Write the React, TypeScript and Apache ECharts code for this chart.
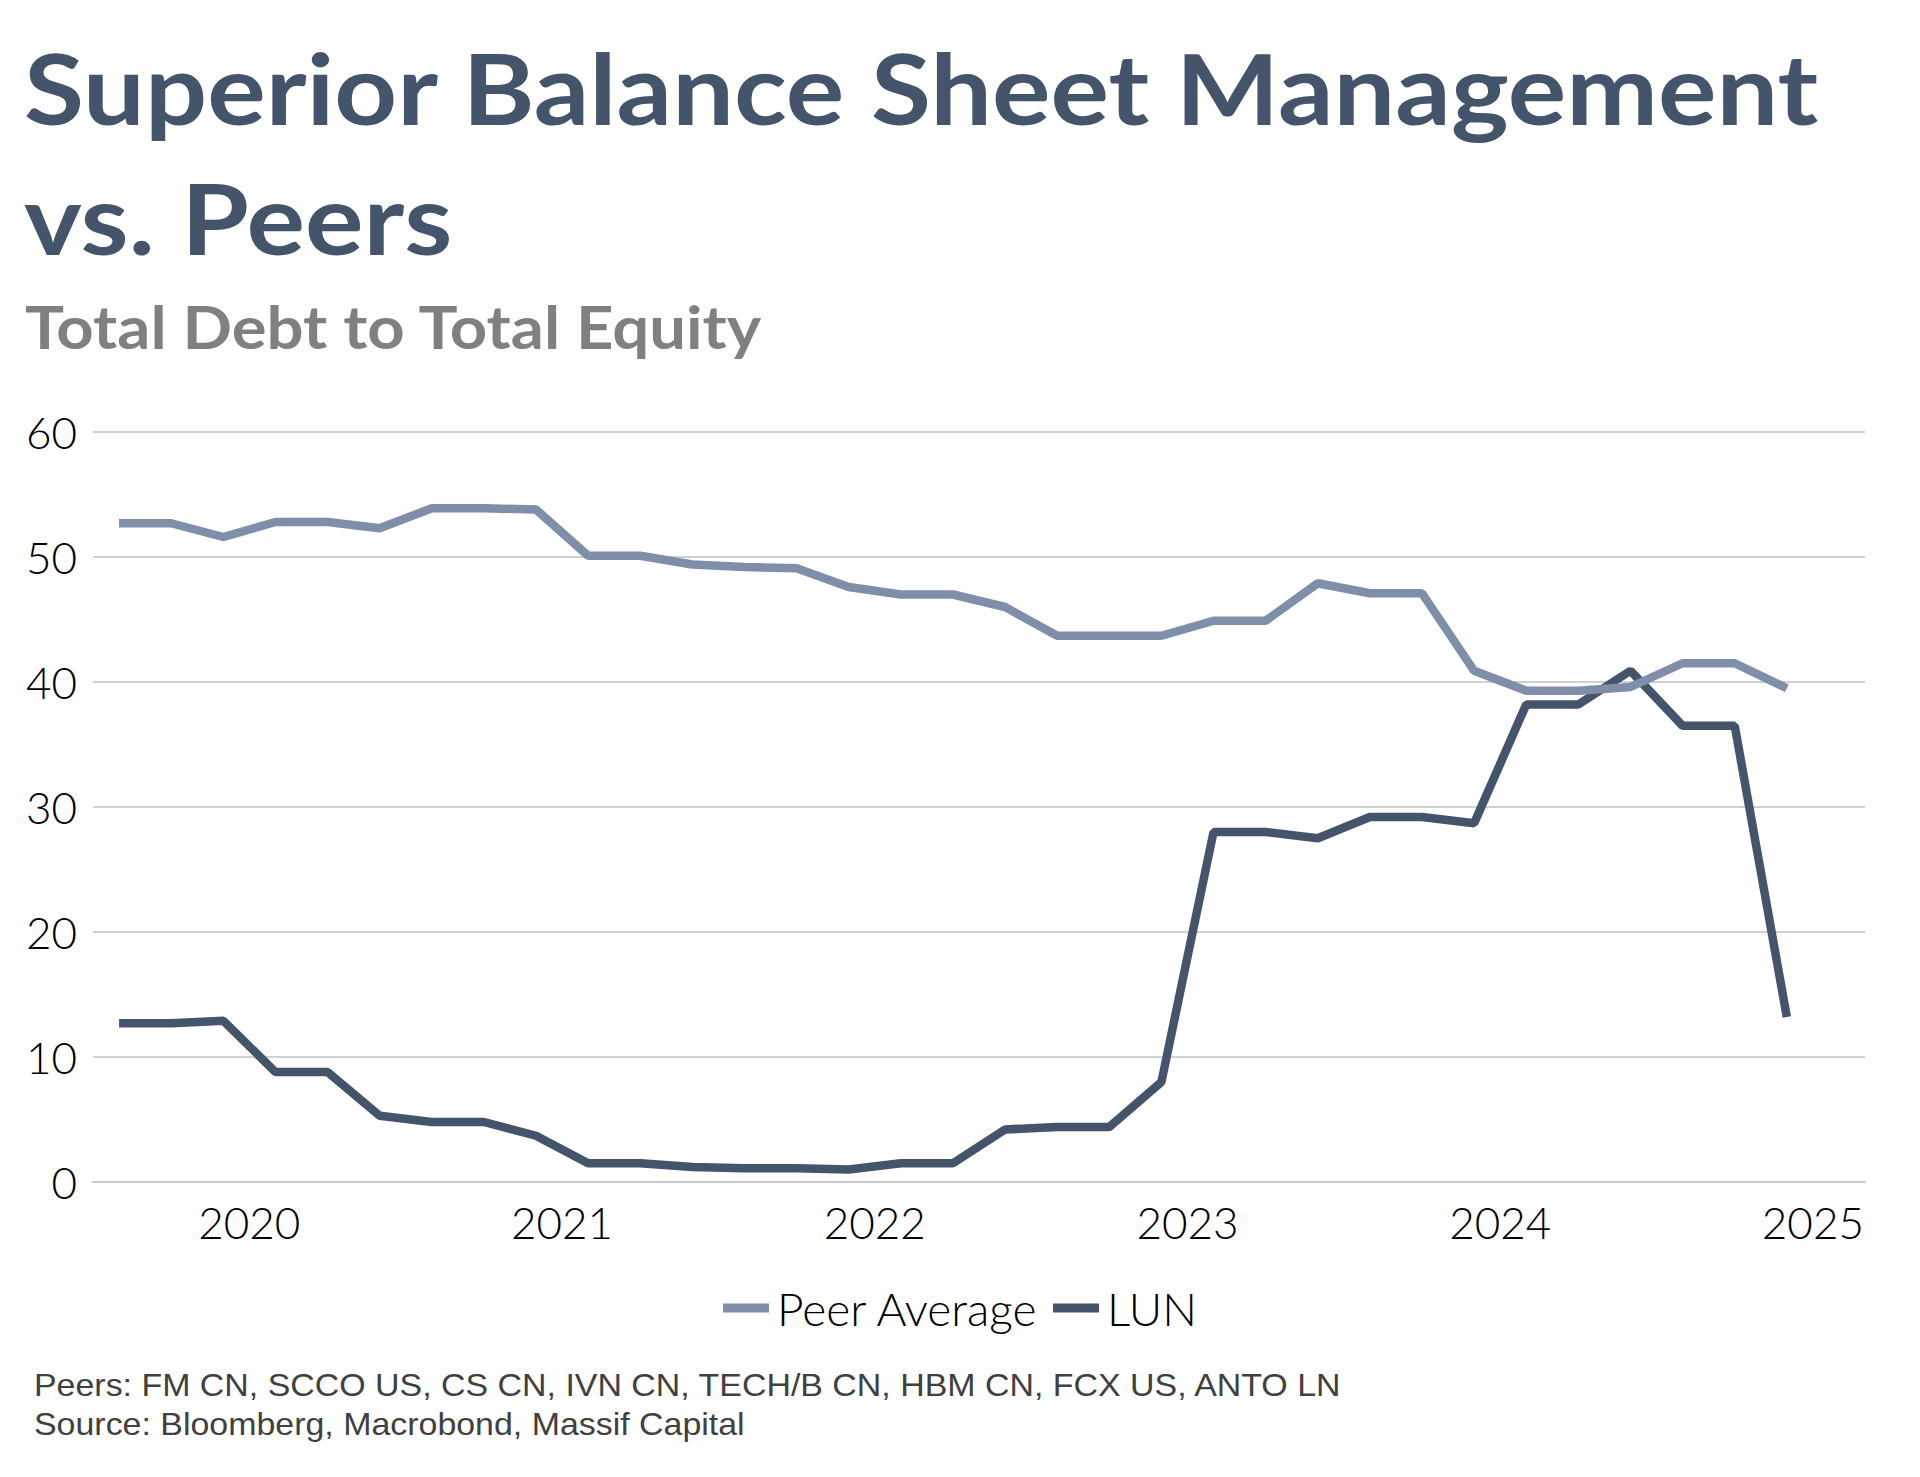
import React, { useEffect, useRef } from "react";
import * as echarts from "echarts";

const dates = [
  "2019-08", "2019-10", "2019-12", "2020-02", "2020-04", "2020-06", "2020-08", "2020-10", "2020-12",
  "2021-02", "2021-04", "2021-06", "2021-08", "2021-10", "2021-12",
  "2022-02", "2022-04", "2022-06", "2022-08", "2022-10", "2022-12",
  "2023-02", "2023-04", "2023-06", "2023-08", "2023-10", "2023-12",
  "2024-02", "2024-04", "2024-06", "2024-08", "2024-10", "2024-12",
];

const peerAverage = [
  52.7, 52.7, 51.6, 52.8, 52.8, 52.3, 53.9, 53.9, 53.8,
  50.1, 50.1, 49.4, 49.2, 49.1, 47.6,
  47.0, 47.0, 46.0, 43.7, 43.7, 43.7,
  44.9, 44.9, 47.9, 47.1, 47.1, 40.9,
  39.3, 39.3, 39.6, 41.5, 41.5, 39.5,
];

const lun = [
  12.7, 12.7, 12.9, 8.8, 8.8, 5.3, 4.8, 4.8, 3.7,
  1.5, 1.5, 1.2, 1.1, 1.1, 1.0,
  1.5, 1.5, 4.2, 4.4, 4.4, 8.0,
  28.0, 28.0, 27.5, 29.2, 29.2, 28.7,
  38.2, 38.2, 40.9, 36.5, 36.5, 13.2,
];

const yearTicks = [2020, 2021, 2022, 2023, 2024, 2025];
const yTicks = [0, 10, 20, 30, 40, 50, 60];

const titleLines = ["Superior Balance Sheet Management", "vs. Peers"];
const subtitle = "Total Debt to Total Equity";
const footnotes = [
  "Peers: FM CN, SCCO US, CS CN, IVN CN, TECH/B CN, HBM CN, FCX US, ANTO LN",
  "Source: Bloomberg, Macrobond, Massif Capital",
];

const BASE_YEAR = 2019;
const toMonth = (d: string) => {
  const [y, m] = d.split("-").map(Number);
  return (y - BASE_YEAR) * 12 + (m - 1);
};

export default function App() {
  const ref = useRef<HTMLDivElement>(null);
  useEffect(() => {
    if (!ref.current) return;
    const chart = echarts.init(ref.current, undefined, { renderer: "svg" });
    const axisFont = "Lato, 'Open Sans', sans-serif";
    const footFont = "32px 'Liberation Sans', Arial, sans-serif";
    chart.setOption({
      animation: false,
      backgroundColor: "#ffffff",
      graphic: [
        {
          type: "text",
          x: 24,
          y: 38,
          scaleX: 1.118,
          style: {
            text: titleLines[0],
            font: "bold 98px Lato, sans-serif",
            fill: "#44546a",
            verticalAlign: "top",
          },
        },
        {
          type: "text",
          x: 24,
          y: 168,
          scaleX: 1.118,
          style: {
            text: titleLines[1],
            font: "bold 98px Lato, sans-serif",
            fill: "#44546a",
            verticalAlign: "top",
          },
        },
        {
          type: "text",
          x: 25,
          y: 296,
          scaleX: 1.087,
          style: {
            text: subtitle,
            font: "bold 60px Lato, sans-serif",
            fill: "#808080",
            verticalAlign: "top",
          },
        },
        {
          type: "text",
          x: 34,
          y: 1369,
          scaleX: 1.06,
          style: {
            text: footnotes[0],
            font: footFont,
            fill: "#404040",
            verticalAlign: "top",
          },
        },
        {
          type: "text",
          x: 34,
          y: 1408,
          scaleX: 1.06,
          style: {
            text: footnotes[1],
            font: footFont,
            fill: "#404040",
            verticalAlign: "top",
          },
        },
      ],
      grid: { left: 93, right: 55, top: 432, bottom: 295, containLabel: false },
      legend: {
        data: ["Peer Average", "LUN"],
        left: "center",
        top: 1280,
        icon: "rect",
        itemWidth: 46,
        itemHeight: 9,
        itemGap: 14,
        textStyle: {
          fontFamily: axisFont,
          fontWeight: 300,
          fontSize: 46,
          color: "#000000",
          padding: [0, 0, 0, 3],
        },
      },
      xAxis: {
        type: "value",
        min: 6,
        max: 74,
        axisLine: { show: true, lineStyle: { color: "#cccccc", width: 2 } },
        axisTick: { show: false },
        splitLine: { show: false },
        axisLabel: {
          customValues: yearTicks.map((y) => (y - BASE_YEAR) * 12),
          formatter: (v: number) => String(BASE_YEAR + Math.round(v / 12)),
          fontFamily: axisFont,
          fontWeight: 300,
          fontSize: 44,
          color: "#000000",
          margin: 18,
        },
      },
      yAxis: {
        type: "value",
        min: yTicks[0],
        max: yTicks[yTicks.length - 1],
        interval: 10,
        axisLine: { show: false },
        axisTick: { show: false },
        splitLine: { show: true, lineStyle: { color: "#d0d0d0", width: 2 } },
        axisLabel: {
          fontFamily: axisFont,
          fontWeight: 300,
          fontSize: 44,
          color: "#000000",
          margin: 16,
        },
      },
      series: [
        {
          name: "Peer Average",
          type: "line",
          symbol: "none",
          z: 3,
          color: "#7f8ea9",
          lineStyle: { width: 8.5, color: "#7f8ea9" },
          data: dates.map((d, i) => [toMonth(d), peerAverage[i]]),
        },
        {
          name: "LUN",
          type: "line",
          symbol: "none",
          z: 2,
          color: "#44546a",
          lineStyle: { width: 8.5, color: "#44546a" },
          data: dates.map((d, i) => [toMonth(d), lun[i]]),
        },
      ],
    });
    return () => chart.dispose();
  }, []);
  return (
    <div
      ref={ref}
      style={{ position: "absolute", left: 0, top: 0, width: 1920, height: 1477 }}
    />
  );
}
